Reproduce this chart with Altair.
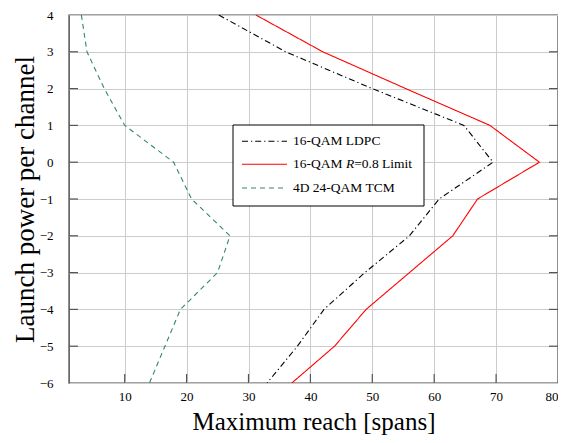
import altair as alt
import pandas as pd

# ---- data ----
power = [4, 3, 2, 1, 0, -1, -2, -3, -4, -5, -6]
ldpc = [25.2, 36.0, 50.0, 64.8, 69.5, 60.8, 56.0, 48.8, 42.2, 37.9, 33.0]
limit = [31.2, 42.0, 55.4, 69.0, 77.0, 67.0, 63.0, 56.0, 49.0, 43.9, 37.0]
tcm = [3.0, 3.9, 6.7, 10.0, 17.9, 20.8, 27.0, 25.0, 19.0, 16.5, 14.0]
series_names = ["16-QAM LDPC", "16-QAM R=0.8 Limit", "4D 24-QAM TCM"]
x_ticks = [10, 20, 30, 40, 50, 60, 70, 80]
y_ticks = [-6, -5, -4, -3, -2, -1, 0, 1, 2, 3, 4]

colors = ["#000000", "#ff0000", "#2f8a5f"]
dashes = [[6, 3, 1.2, 3], [1, 0], [5, 4]]

W, H = 489, 368
PAD_TOP = 7
FONT = "Liberation Serif"

rows = []
for name, vals in zip(series_names, [ldpc, limit, tcm]):
    for i, (p, v) in enumerate(zip(power, vals)):
        rows.append({"series": name, "reach": v, "power": p, "idx": i})
df = pd.DataFrame(rows)

xscale = alt.Scale(domain=[1, 80], nice=False, zero=False)
yscale = alt.Scale(domain=[-6, 4], nice=False, zero=False)

x_axis = alt.Axis(values=x_ticks, title="Maximum reach [spans]", format="d",
                  grid=True, gridColor="#cccccc", gridWidth=1,
                  ticks=False, domain=False, labelPadding=7, labelFlush=True,
                  labelOverlap=False,
                  labelFont=FONT, labelFontSize=13, labelColor="#000",
                  titleFont=FONT, titleFontSize=25, titleFontWeight="normal",
                  titleColor="#000", titleY=46, titleBaseline="alphabetic")
y_axis = alt.Axis(values=y_ticks, title="Launch power per channel", format="d",
                  grid=True, gridColor="#cccccc", gridWidth=1,
                  ticks=False, domain=False, labelPadding=16,
                  labelOverlap=False,
                  labelFont=FONT, labelFontSize=13, labelColor="#000",
                  titleFont=FONT, titleFontSize=27, titleFontWeight="normal",
                  titleColor="#000", titleX=-36, titleBaseline="alphabetic")

lines = alt.Chart(df).mark_line(strokeWidth=1.1, clip=True).encode(
    x=alt.X("reach:Q", scale=xscale, axis=x_axis),
    y=alt.Y("power:Q", scale=yscale, axis=y_axis),
    color=alt.Color("series:N", scale=alt.Scale(domain=series_names, range=colors), legend=None),
    strokeDash=alt.StrokeDash("series:N", scale=alt.Scale(domain=series_names, range=dashes), legend=None),
    order=alt.Order("idx:Q"),
)

tick_color = "#555555"
xt = pd.DataFrame({"reach": x_ticks[:-1]})
yt = pd.DataFrame({"power": y_ticks[1:-1]})
bottom_ticks = alt.Chart(xt).mark_rule(color=tick_color, strokeWidth=1.2).encode(
    x=alt.X("reach:Q", scale=xscale, axis=x_axis), y=alt.value(H), y2=alt.value(H - 9))
left_ticks = alt.Chart(yt).mark_rule(color=tick_color, strokeWidth=1.2).encode(
    y=alt.Y("power:Q", scale=yscale, axis=y_axis), x=alt.value(0), x2=alt.value(9))
right_ticks = alt.Chart(yt).mark_rule(color=tick_color, strokeWidth=1.2).encode(
    y=alt.Y("power:Q", scale=yscale, axis=y_axis), x=alt.value(W - 9), x2=alt.value(W))

one = pd.DataFrame({"a": [0]})
box = alt.Chart(one).mark_rect(fill="white", stroke="#000", strokeWidth=1).encode(
    x=alt.value(164), x2=alt.value(355), y=alt.value(110), y2=alt.value(191))

row_y = [126.3, 149.3, 173.0]
legend_layers = [box]
for name, col, dash, ry in zip(series_names, colors, dashes, row_y):
    legend_layers.append(
        alt.Chart(one).mark_rule(color=col, strokeDash=dash, strokeWidth=1.1).encode(
            x=alt.value(173), x2=alt.value(218), y=alt.value(ry)))

txt_kw = dict(font=FONT, fontSize=13.5, align="left", baseline="middle", color="#000")
legend_layers.append(alt.Chart(one).mark_text(**txt_kw).encode(
    x=alt.value(224), y=alt.value(row_y[0]), text=alt.value("16-QAM LDPC")))
legend_layers.append(alt.Chart(one).mark_text(**txt_kw).encode(
    x=alt.value(224), y=alt.value(row_y[1]), text=alt.value("16-QAM")))
legend_layers.append(alt.Chart(one).mark_text(fontStyle="italic", **txt_kw).encode(
    x=alt.value(224 + 52.9), y=alt.value(row_y[1]), text=alt.value("R")))
legend_layers.append(alt.Chart(one).mark_text(**txt_kw).encode(
    x=alt.value(224 + 52.9 + 8.3), y=alt.value(row_y[1]), text=alt.value("=0.8 Limit")))
legend_layers.append(alt.Chart(one).mark_text(**txt_kw).encode(
    x=alt.value(224), y=alt.value(row_y[2]), text=alt.value("4D 24-QAM TCM")))

chart = alt.layer(lines, bottom_ticks, left_ticks, right_ticks, *legend_layers).properties(
    width=W, height=H,
    autosize=alt.AutoSizeParams(type="none"),
    padding={"left": 61, "top": PAD_TOP, "right": 0, "bottom": 427 - PAD_TOP - H},
    background="white",
).configure(font=FONT).configure_axis(
    labelFont=FONT, titleFont=FONT
).configure_view(stroke="#444444", strokeWidth=1.4)

chart.save("out.html", embed_options={"renderer": "svg", "actions": False})
